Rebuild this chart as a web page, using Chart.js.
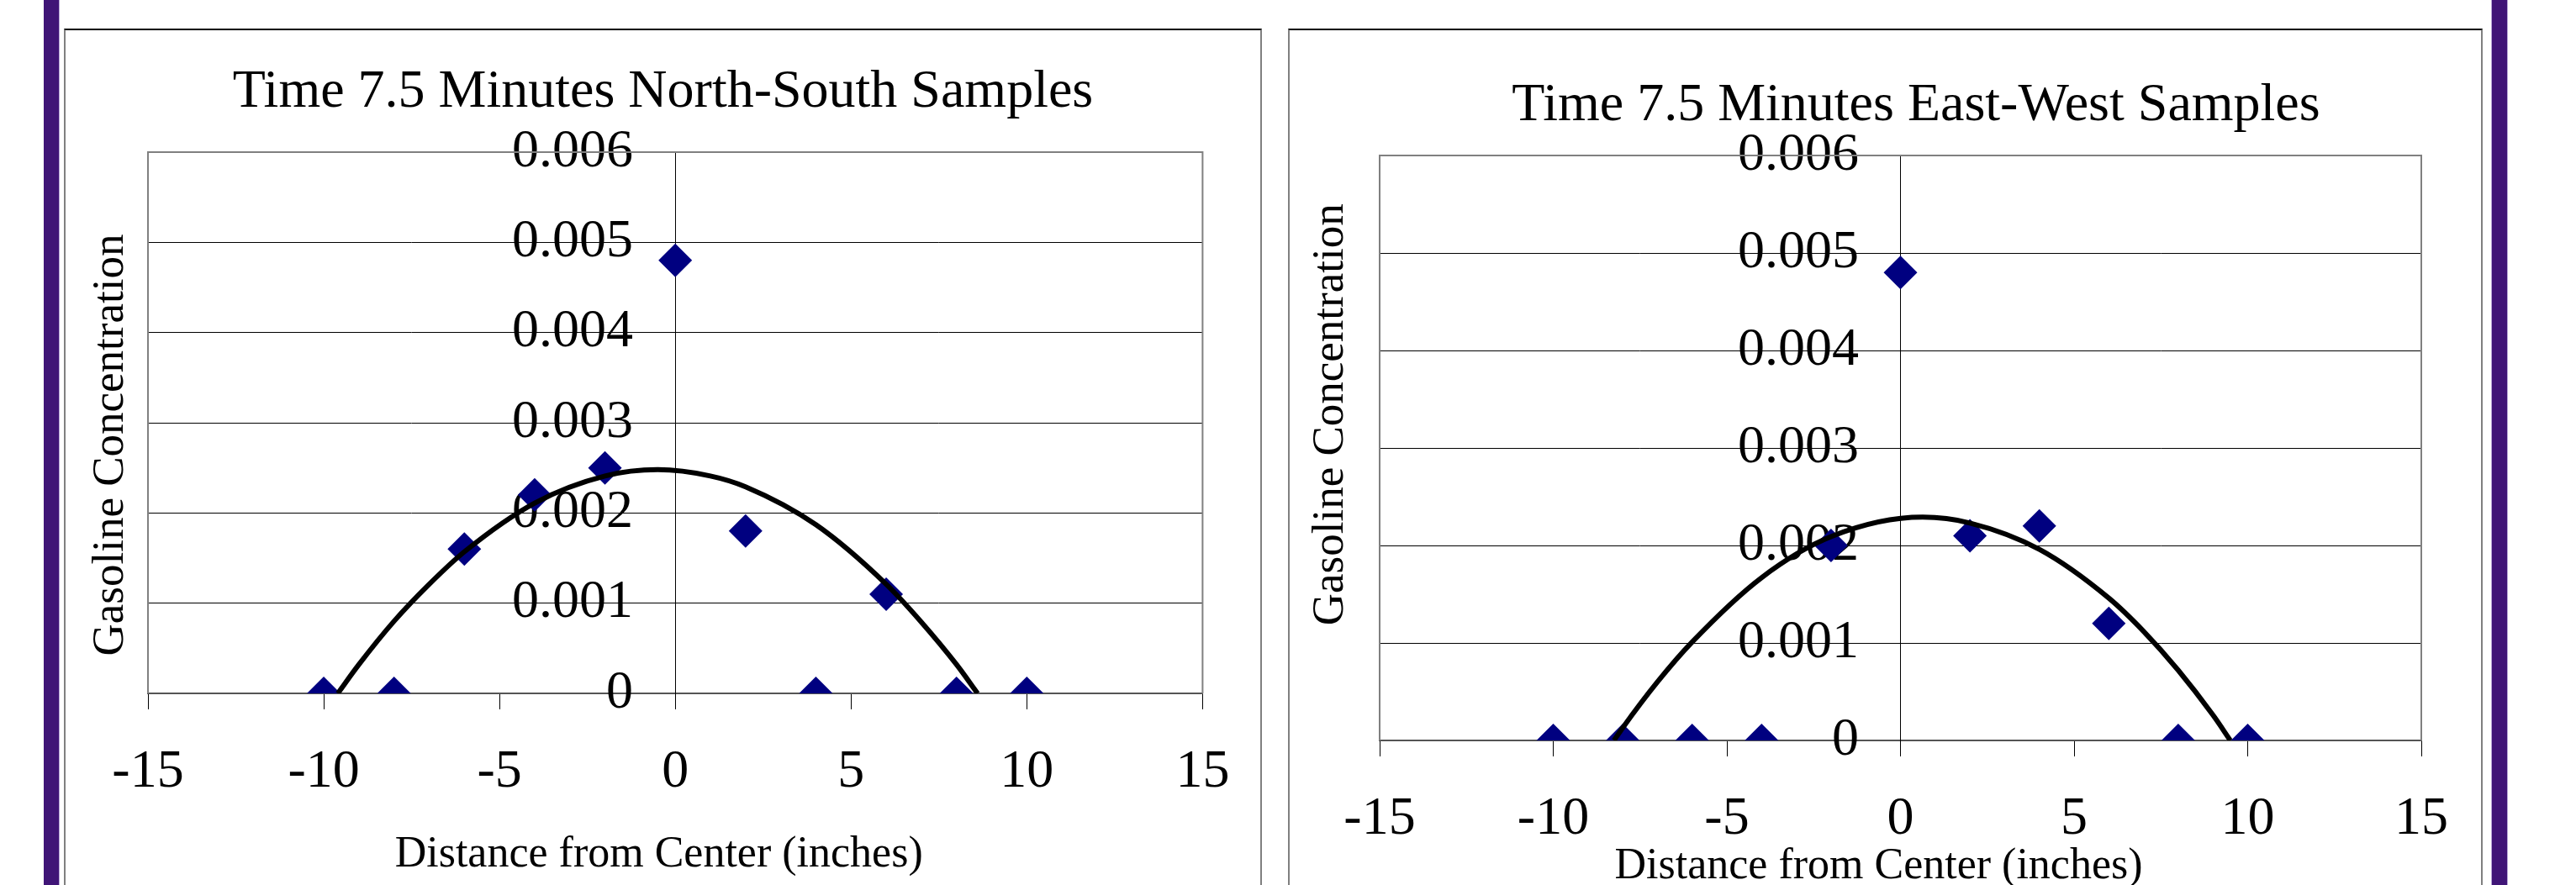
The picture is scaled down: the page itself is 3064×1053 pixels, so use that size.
<!DOCTYPE html>
<html>
<head>
<meta charset="utf-8">
<script src="https://cdn.jsdelivr.net/npm/chart.js@4.4.1/dist/chart.umd.min.js"></script>
<style>
  html, body { margin: 0; padding: 0; background: #fff; }
  body { width: 3064px; height: 1053px; overflow: hidden; position: relative; }
  .bar { position: absolute; top: 0; width: 18px; height: 1053px; background: #401577; }
  .frame { position: absolute; top: 34px; height: 1100px; box-sizing: border-box;
           border-top: 2px solid #000; border-left: 2px solid #808080; border-right: 2px solid #808080; }
  canvas { position: absolute; }
</style>
</head>
<body>
<div class="bar" style="left:52px; border-right:1px solid #b8a8d8;"></div>
<div class="bar" style="left:2963px; border-left:1px solid #b8a8d8; border-right:1px solid #b8a8d8;"></div>
<div class="frame" style="left:76px; width:1425px;"></div>
<div class="frame" style="left:1532px; width:1421px;"></div>
<canvas id="nsChart" width="1421" height="1060" style="left:78px; top:36px;"></canvas>
<canvas id="ewChart" width="1490" height="1060" style="left:1534px; top:36px;"></canvas>

<script>
// sample positions (inches from center)
const distances = [-10, -8, -6, -4, -2, 0, 2, 4, 6, 8, 10];

// North-South samples, 7.5 min
const nsConc = [0, 0, 0.0016, 0.0022, 0.0025, 0.0048, 0.0018, 0, 0.0011, 0, 0];
// trendline
const nsTrendX = [-9.6, -9, -8, -7, -6, -4, -2, -0.5, 1, 2, 4, 6, 7, 8, 8.6];
const nsTrendY = [0, 0.00032, 0.0008, 0.00121, 0.00157, 0.00211, 0.00241, 0.00248, 0.00241, 0.00229, 0.00187, 0.00121, 0.00079, 0.00032, 0];

// East-West samples, 7.5 min
const ewConc = [0, 0, 0, 0, 0.002, 0.0048, 0.0021, 0.0022, 0.0012, 0, 0];
const ewTrendX = [-8.25, -8, -7, -6, -4, -2, 0.64, 2, 4, 6, 7, 8, 9, 9.5];
const ewTrendY = [0, 0.00013, 0.0006, 0.00101, 0.00167, 0.00209, 0.00229, 0.00223, 0.00196, 0.00146, 0.00112, 0.00072, 0.00026, 0];

const xTicks = [-15, -10, -5, 0, 5, 10, 15];
const yTicks = [0, 0.001, 0.002, 0.003, 0.004, 0.005, 0.006];

const serif = "'Liberation Serif', 'Times New Roman', serif";
const nb = n => "\u00a0".repeat(n);

// grey box round the plot area (left, top, right)
const plotFrame = {
  id: "plotFrame",
  beforeDatasetsDraw(chart) {
    const a = chart.chartArea, ctx = chart.ctx;
    ctx.save();
    ctx.strokeStyle = "#808080";
    ctx.lineWidth = 2;
    ctx.beginPath();
    ctx.moveTo(a.left, a.bottom);
    ctx.lineTo(a.left, a.top);
    ctx.lineTo(a.right, a.top);
    ctx.lineTo(a.right, a.bottom);
    ctx.stroke();
    ctx.restore();
  }
};

function makeChart(id, title, conc, trendX, trendY, g) {
  const pts = distances.map((d, i) => ({ x: d, y: conc[i] }));
  const trend = trendX.map((d, i) => ({ x: d, y: trendY[i] }));
  const setY = s => { s.ticks = yTicks.map(v => ({ value: v })); };
  return new Chart(document.getElementById(id), {
    type: "scatter",
    data: {
      datasets: [
        { data: trend, showLine: true, borderColor: "#000", borderWidth: 6,
          pointRadius: 0, cubicInterpolationMode: "monotone", fill: false },
        { data: pts, pointStyle: "rectRot", pointRadius: 20,
          backgroundColor: "#000080", borderColor: "#000080", borderWidth: 0 }
      ]
    },
    options: {
      responsive: false,
      animation: false,
      layout: { padding: 0 },
      plugins: {
        legend: { display: false },
        tooltip: { enabled: false },
        title: {
          display: true, text: title, color: "#000",
          font: { family: serif, size: 64, weight: "normal" },
          padding: { top: g.titleTop, bottom: g.titleBottom }
        }
      },
      scales: {
        x: {
          type: "linear", position: "bottom", min: -15, max: 15,
          afterBuildTicks: s => { s.ticks = xTicks.map(v => ({ value: v })); },
          afterFit: s => { s.height = g.xHeight; },
          ticks: { color: "#000", font: { family: serif, size: 64 }, padding: g.tickPad,
                   maxRotation: 0, callback: v => String(v) },
          grid: { drawOnChartArea: false, drawTicks: true, tickLength: 19, color: "#000", lineWidth: 1 },
          border: { display: true, color: "#555", width: 2 },
          title: { display: true, text: "Distance from Center (inches)" + nb(g.xTitleShift), color: "#000",
                   font: { family: serif, size: 52 }, padding: { top: 0, bottom: g.xTitleBottom } }
        },
        // axis line, gridlines and tick marks at x = 0
        y: {
          type: "linear", position: { x: 0 }, min: 0, max: 0.006,
          afterBuildTicks: setY,
          ticks: { display: false },
          grid: { color: "#000", lineWidth: 1, tickLength: 19 },
          border: { display: true, color: "#000", width: 1 }
        },
        // tick labels just left of the x = 0 axis
        yLab: {
          type: "linear", axis: "y", position: { x: -1.2 }, min: 0, max: 0.006,
          afterBuildTicks: setY,
          ticks: { color: "#000", font: { family: serif, size: 64 },
                   callback: v => (v === 0 ? "0" : v.toFixed(3)) },
          grid: { display: false }, border: { display: false }
        },
        yl: {
          type: "linear", position: "left", min: 0, max: 1,
          afterFit: s => { s.width = g.leftW; },
          ticks: { display: false }, grid: { display: false }, border: { display: false },
          title: { display: true, text: nb(g.yTitleLead) + "Gasoline Concentration" + nb(g.yTitleTrail), color: "#000",
                   font: { family: serif, size: 53 }, padding: { top: g.yTitleTop, bottom: 0 } }
        },
        yr: {
          type: "linear", position: "right", min: 0, max: 1,
          afterFit: s => { s.width = g.rightW; },
          ticks: { display: false }, grid: { display: false }, border: { display: false }
        }
      }
    },
    plugins: [plotFrame]
  });
}

makeChart("nsChart", "Time 7.5 Minutes North-South Samples", nsConc, nsTrendX, nsTrendY,
  { titleTop: 35.6, titleBottom: 32.6, leftW: 98, rightW: 60, xHeight: 271,
    tickPad: 36.6, xTitleBottom: 47.8, yTitleTop: 22.2,
    xTitleShift: 3, yTitleLead: 0, yTitleTrail: 4 });

makeChart("ewChart", "Time 7.5 Minutes East-West Samples", ewConc, ewTrendX, ewTrendY,
  { titleTop: 51.6, titleBottom: 20.6, leftW: 107, rightW: 144, xHeight: 215,
    tickPad: 36.6, xTitleBottom: 33.8, yTitleTop: 17.2,
    xTitleShift: 4, yTitleLead: 6, yTitleTrail: 0 });
</script>
</body>
</html>
